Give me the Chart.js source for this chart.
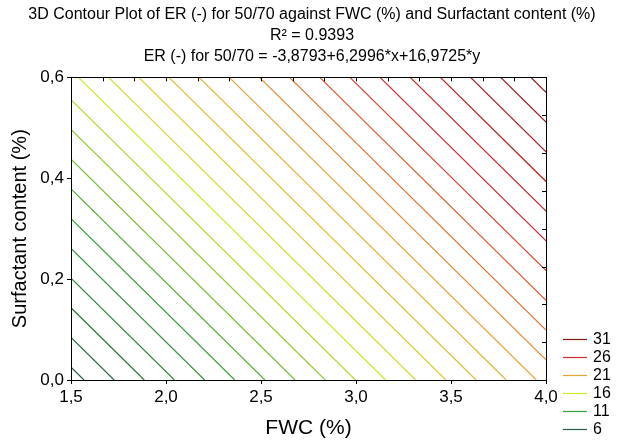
<!DOCTYPE html>
<html lang="en">
<head>
    <meta charset="UTF-8">
    <title>3D Contour Plot of ER</title>
    <script src="https://cdn.jsdelivr.net/npm/chart.js"></script>
    <style>
        body {
            margin: 0;
            background: #ffffff;
        }
        #wrap {
            width: 624px;
            height: 446px;
        }
    </style>
</head>
<body>
    <div id="wrap"><canvas id="contour"></canvas></div>

    <script>
        // fitted surface from the title: ER = a + b*FWC + c*Surfactant
        const coefA = -3.8793;
        const coefB = 6.2996;
        const coefC = 16.9725;

        const fwcRange = [1.5, 4.0];
        const surfRange = [0.0, 0.6];

        // one contour line per level
        const levels = [6, 7, 8, 9, 10, 11, 12, 13, 14, 15, 16, 17, 18, 19, 20,
                        21, 22, 23, 24, 25, 26, 27, 28, 29, 30, 31];
        const legendLevels = [31, 26, 21, 16, 11, 6];

        const xTicks = [1.5, 2.0, 2.5, 3.0, 3.5, 4.0];
        const yTicks = [0.0, 0.2, 0.4, 0.6];

        // colour stops for the legend levels (6 -> 31)
        const stopColors = {
            6: [38, 92, 66],
            11: [56, 160, 56],
            16: [206, 232, 40],
            21: [230, 164, 56],
            26: [212, 44, 44],
            31: [132, 22, 22]
        };

        function levelColor(lv) {
            const keys = Object.keys(stopColors).map(Number).sort((a, b) => a - b);
            let lo = keys[0], hi = keys[keys.length - 1];
            for (let i = 0; i < keys.length - 1; i++) {
                if (lv >= keys[i] && lv <= keys[i + 1]) { lo = keys[i]; hi = keys[i + 1]; break; }
            }
            const t = hi === lo ? 0 : (lv - lo) / (hi - lo);
            const c = stopColors[lo].map((v, i) => Math.round(v + (stopColors[hi][i] - v) * t));
            return `rgb(${c[0]},${c[1]},${c[2]})`;
        }

        // clip the straight contour of a level to the plotted rectangle
        function contourSegment(lv) {
            const pts = [];
            const add = (x, y) => {
                if (x < fwcRange[0] - 1e-9 || x > fwcRange[1] + 1e-9) return;
                if (y < surfRange[0] - 1e-9 || y > surfRange[1] + 1e-9) return;
                if (!pts.some(p => Math.abs(p.x - x) < 1e-9 && Math.abs(p.y - y) < 1e-9)) pts.push({ x, y });
            };
            fwcRange.forEach(x => add(x, (lv - coefA - coefB * x) / coefC));
            surfRange.forEach(y => add((lv - coefA - coefC * y) / coefB, y));
            return pts.sort((p, q) => p.x - q.x);
        }

        const datasets = levels.map(lv => ({
            label: String(lv),
            data: contourSegment(lv),
            borderColor: levelColor(lv),
            borderWidth: 1.2,
            pointRadius: 0,
            fill: false
        }));

        const comma = v => Number(v).toFixed(1).replace('.', ',');
        const FONT = '"Liberation Sans", Arial, sans-serif';

        // box, inner ticks on top/right, and the level legend
        const framePlugin = {
            id: 'frame',
            afterDraw(chart) {
                const ctx = chart.ctx;
                const a = chart.chartArea;
                ctx.save();
                ctx.strokeStyle = '#000';
                ctx.lineWidth = 1;
                ctx.strokeRect(Math.round(a.left) + 0.5, Math.round(a.top) + 0.5,
                    Math.round(a.right - a.left), Math.round(a.bottom - a.top));

                ctx.beginPath();
                for (let i = 1; i < 15; i++) {
                    const x = Math.round(a.left + (a.right - a.left) * i / 15) + 0.5;
                    ctx.moveTo(x, a.top);
                    ctx.lineTo(x, a.top + 4);
                }
                for (let i = 1; i < 8; i++) {
                    const y = Math.round(a.top + (a.bottom - a.top) * i / 8) + 0.5;
                    ctx.moveTo(a.right, y);
                    ctx.lineTo(a.right - 4, y);
                }
                ctx.stroke();

                ctx.font = '16px ' + FONT;
                ctx.textBaseline = 'middle';
                ctx.fillStyle = '#000';
                ctx.lineWidth = 1.2;
                legendLevels.forEach((lv, i) => {
                    const y = Math.round(339 + i * 18) + 0.5;
                    ctx.strokeStyle = levelColor(lv);
                    ctx.beginPath();
                    ctx.moveTo(563, y);
                    ctx.lineTo(587, y);
                    ctx.stroke();
                    ctx.fillText(String(lv), 593, y);
                });
                ctx.restore();
            }
        };

        new Chart(document.getElementById('contour'), {
            type: 'line',
            data: { datasets },
            options: {
                responsive: true,
                maintainAspectRatio: false,
                animation: false,
                layout: { padding: 0 },
                plugins: {
                    legend: { display: false },
                    tooltip: { enabled: false },
                    title: {
                        display: true,
                        text: [
                            '3D Contour Plot of ER (-) for 50/70 against FWC (%) and Surfactant content (%)',
                            'R\u00b2 = 0.9393',
                            'ER (-) for 50/70 = -3,8793+6,2996*x+16,9725*y'
                        ],
                        color: '#000',
                        font: { family: FONT, size: 16, weight: 'normal', lineHeight: 1.32 },
                        padding: { top: 4, bottom: 10 }
                    }
                },
                scales: {
                    x: {
                        type: 'linear',
                        min: fwcRange[0],
                        max: fwcRange[1],
                        afterBuildTicks: s => { s.ticks = xTicks.map(v => ({ value: v })); },
                        afterFit: s => { s.height = 66; },
                        ticks: {
                            color: '#000',
                            padding: 3,
                            maxRotation: 0,
                            font: { family: FONT, size: 17 },
                            callback: v => comma(v)
                        },
                        grid: { drawOnChartArea: false, drawTicks: true, tickLength: 4, color: '#000' },
                        border: { color: '#000' },
                        title: {
                            display: true,
                            text: 'FWC (%)',
                            color: '#000',
                            font: { family: FONT, size: 21 },
                            padding: { top: 0, bottom: 5 }
                        }
                    },
                    y: {
                        type: 'linear',
                        min: surfRange[0],
                        max: surfRange[1],
                        afterBuildTicks: s => { s.ticks = yTicks.map(v => ({ value: v })); },
                        afterFit: s => { s.width = 71; },
                        ticks: {
                            color: '#000',
                            padding: 3,
                            font: { family: FONT, size: 17 },
                            callback: v => comma(v)
                        },
                        grid: { drawOnChartArea: false, drawTicks: true, tickLength: 4, color: '#000' },
                        border: { color: '#000' },
                        title: {
                            display: true,
                            text: 'Surfactant content (%)',
                            color: '#000',
                            font: { family: FONT, size: 20 },
                            padding: { top: 8, bottom: 0 }
                        }
                    },
                    // empty right-hand strip that leaves room for the level legend
                    legendSpace: {
                        type: 'linear',
                        position: 'right',
                        min: 0,
                        max: 1,
                        afterFit: s => { s.width = 78; },
                        ticks: { display: false },
                        grid: { display: false, drawTicks: false },
                        border: { display: false }
                    }
                }
            },
            plugins: [framePlugin]
        });
    </script>
</body>
</html>
